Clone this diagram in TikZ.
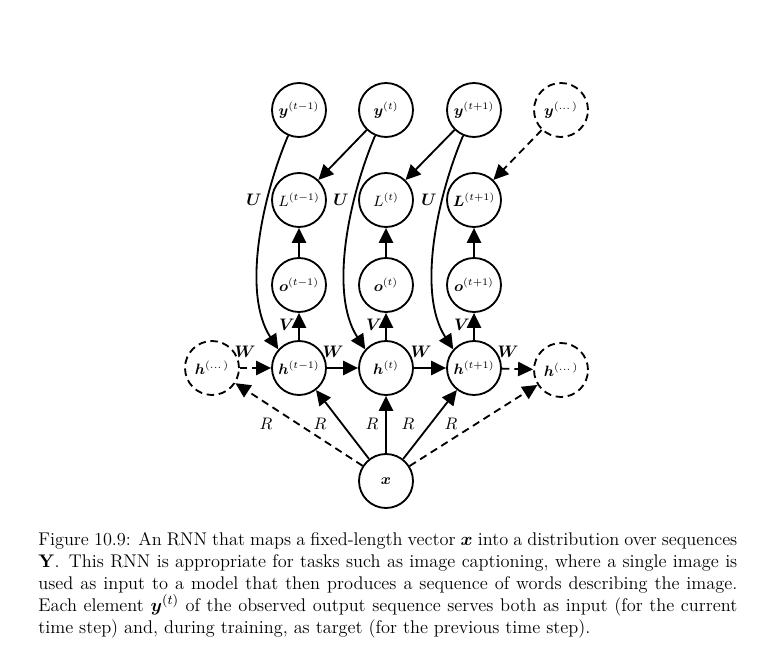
\documentclass[tikz,border=0pt]{standalone}
\usepackage{amsmath,bm}
\usetikzlibrary{arrows.meta}
\begin{document}
\begin{tikzpicture}[x=0.6pt,y=-0.6pt,
  unit/.style={circle,draw,line width=1.1pt,minimum size=32.4pt,inner sep=0pt,font=\small},
  dunit/.style={unit,dash pattern=on 4.5pt off 2.8pt},
  arr/.style={line width=1.1pt,-{Triangle[length=9pt,width=8.5pt]}},
  darr/.style={arr,dash pattern=on 4.5pt off 3pt},
  lab/.style={font=\normalsize,inner sep=0pt}]
\useasboundingbox (0,0) rectangle (770,656);
% outputs y
\node[unit]  (y1) at (299,110) {$\bm{y}^{(t-1)}$};
\node[unit]  (y2) at (386,110) {$\bm{y}^{(t)}$};
\node[unit]  (y3) at (474,110) {$\bm{y}^{(t+1)}$};
\node[dunit] (y4) at (561,110) {$\bm{y}^{(\dots)}$};
% losses
\node[unit] (L1) at (299,200) {$L^{(t-1)}$};
\node[unit] (L2) at (386,200) {$L^{(t)}$};
\node[unit] (L3) at (474,200) {$\bm{L}^{(t+1)}$};
% outputs o
\node[unit] (o1) at (299,285) {$\bm{o}^{(t-1)}$};
\node[unit] (o2) at (386,285) {$\bm{o}^{(t)}$};
\node[unit] (o3) at (474,285) {$\bm{o}^{(t+1)}$};
% hidden
\node[dunit] (h0) at (212,368) {$\bm{h}^{(\dots)}$};
\node[unit]  (h1) at (299,368) {$\bm{h}^{(t-1)}$};
\node[unit]  (h2) at (386,368) {$\bm{h}^{(t)}$};
\node[unit]  (h3) at (474,368) {$\bm{h}^{(t+1)}$};
\node[dunit] (h4) at (561,370) {$\bm{h}^{(\dots)}$};
% input
\node[unit] (x) at (386,481) {$\bm{x}$};

% y -> L
\draw[arr] (y2) -- (L1);
\draw[arr] (y3) -- (L2);
\draw[darr] (y4) -- (L3);
% o -> L, h -> o
\foreach \i in {1,2,3} {
  \draw[arr] (o\i) -- (L\i);
  \draw[arr] (h\i) -- (o\i);
}
% y -> h curves
\foreach \i in {1,2,3} {
  \draw[arr] (y\i.-113) to[out=-113,in=123,looseness=0.8] (h\i.138);
}
% recurrence
\draw[darr] (h0) -- (h1);
\draw[arr] (h1) -- (h2);
\draw[arr] (h2) -- (h3);
\draw[darr] (h3) -- (h4);
% x -> h
\draw[darr] (x) -- (h0);
\draw[arr] (x) -- (h1);
\draw[arr] (x) -- (h2);
\draw[arr] (x) -- (h3);
\draw[darr] (x) -- (h4);

% labels
\node[lab] (u1) at (254,200) {$\bm{U}$};
\node[lab] (u2) at (341,200) {$\bm{U}$};
\node[lab] (u3) at (429,200) {$\bm{U}$};
\node[lab] (v1) at (287,325) {$\bm{V}$};
\node[lab] (v2) at (374,325) {$\bm{V}$};
\node[lab] (v3) at (462,325) {$\bm{V}$};
\node[lab] (w0) at (245,352) {$\bm{W}$};
\node[lab] (w1) at (333,352) {$\bm{W}$};
\node[lab] (w2) at (421,352) {$\bm{W}$};
\node[lab] (w3) at (508,352) {$\bm{W}$};
\node[lab] (r0) at (266,424) {$R$};
\node[lab] (r1) at (320,424) {$R$};
\node[lab] (r2) at (372,424) {$R$};
\node[lab] (r3) at (408,424) {$R$};
\node[lab] (r4) at (451,424) {$R$};

% caption
\node[anchor=base west,inner sep=0pt,align=left,font=\fontsize{11}{13.2}\selectfont] (cap) at (38,633) {%
\makebox[419.4pt][s]{Figure 10.9: An RNN that maps a fixed-length vector $\bm{x}$ into a distribution over sequences}\\
\makebox[419.4pt][s]{$\mathbf{Y}$. This RNN is appropriate for tasks such as image captioning, where a single image is}\\
\makebox[419.4pt][s]{used as input to a model that then produces a sequence of words describing the image.}\\
\makebox[419.4pt][s]{Each element $\bm{y}^{(t)}$ of the observed output sequence serves both as input (for the current}\\
\makebox[419.4pt][l]{time step) and, during training, as target (for the previous time step).}};
\end{tikzpicture}
\end{document}
